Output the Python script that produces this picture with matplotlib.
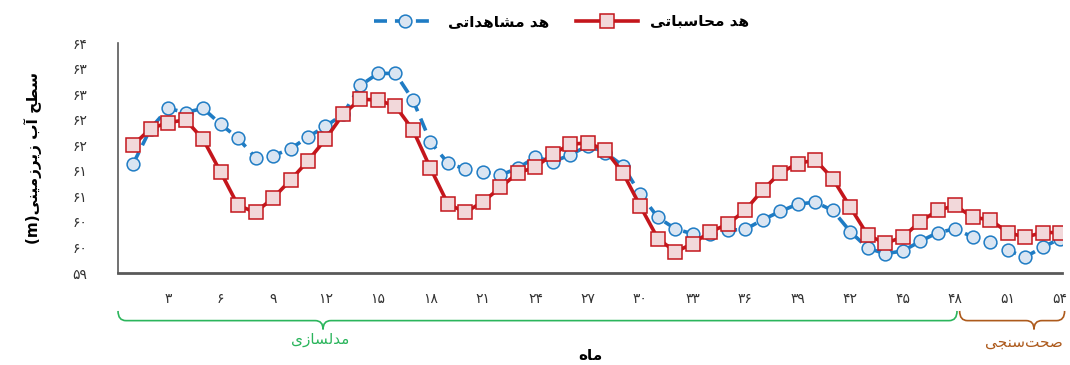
import numpy as np
import matplotlib
matplotlib.use('Agg')
import matplotlib.pyplot as plt
from matplotlib.path import Path
from matplotlib.patches import PathPatch

plt.rcParams['font.family'] = ['DejaVu Sans']

# data (monthly groundwater head, m)
months = list(range(1, 55))
observed = [61.37, 62.14, 62.58, 62.49, 62.58, 62.24, 61.93, 61.51, 61.55, 61.70,
            61.96, 62.19, 62.45, 63.08, 63.34, 63.34, 62.76, 61.85, 61.39, 61.26,
            61.20, 61.13, 61.28, 61.52, 61.42, 61.57, 61.77, 61.62, 61.33, 60.71,
            60.21, 59.96, 59.85, 59.84, 59.93, 59.95, 60.16, 60.34, 60.50, 60.54,
            60.36, 59.90, 59.54, 59.42, 59.48, 59.69, 59.88, 59.96, 59.78, 59.67,
            59.49, 59.35, 59.56, 59.75]
computed = [61.78, 62.14, 62.27, 62.33, 61.91, 61.20, 60.47, 60.32, 60.63, 61.02,
            61.44, 61.91, 62.45, 62.78, 62.76, 62.63, 62.11, 61.28, 60.50, 60.32,
            60.55, 60.86, 61.18, 61.30, 61.59, 61.80, 61.83, 61.67, 61.18, 60.45,
            59.75, 59.46, 59.64, 59.90, 60.06, 60.37, 60.81, 61.18, 61.38, 61.46,
            61.05, 60.43, 59.82, 59.65, 59.78, 60.12, 60.36, 60.47, 60.21, 60.16,
            59.88, 59.78, 59.88, 59.88]

xtick_values = list(range(3, 55, 3))
ytick_values = list(np.linspace(59, 64, 10))
ytick_labels = ['۵۹', '۶۰', '۶۰', '۶۱', '۶۱', '۶۲', '۶۲', '۶۳', '۶۳', '۶۴']

label_observed = 'هد مشاهداتی'
label_computed = 'هد محاسباتی'
label_y = 'سطح آب زیرزمینی'
label_x = 'ماه'
label_calib = 'مدلسازی'
label_valid = 'صحت\u200cسنجی'
calib_end = 48   # last month of the modelling period


# matplotlib has no Arabic shaping, so join letters by hand and reverse
FORMS = {
    'ا': ('\uFE8D', '\uFE8E', None, None),
    'آ': ('\uFE81', '\uFE82', None, None),
    'د': ('\uFEA9', '\uFEAA', None, None),
    'ر': ('\uFEAD', '\uFEAE', None, None),
    'ز': ('\uFEAF', '\uFEB0', None, None),
    'ب': ('\uFE8F', '\uFE90', '\uFE91', '\uFE92'),
    'ت': ('\uFE95', '\uFE96', '\uFE97', '\uFE98'),
    'ج': ('\uFE9D', '\uFE9E', '\uFE9F', '\uFEA0'),
    'ح': ('\uFEA1', '\uFEA2', '\uFEA3', '\uFEA4'),
    'س': ('\uFEB1', '\uFEB2', '\uFEB3', '\uFEB4'),
    'ش': ('\uFEB5', '\uFEB6', '\uFEB7', '\uFEB8'),
    'ص': ('\uFEB9', '\uFEBA', '\uFEBB', '\uFEBC'),
    'ط': ('\uFEC1', '\uFEC2', '\uFEC3', '\uFEC4'),
    'ل': ('\uFEDD', '\uFEDE', '\uFEDF', '\uFEE0'),
    'م': ('\uFEE1', '\uFEE2', '\uFEE3', '\uFEE4'),
    'ن': ('\uFEE5', '\uFEE6', '\uFEE7', '\uFEE8'),
    'ه': ('\uFEE9', '\uFEEA', '\uFEEB', '\uFEEC'),
    'ی': ('\uFEEF', '\uFEF0', '\uFEF3', '\uFEF4'),
}


def shape(s):
    out = []
    for i, c in enumerate(s):
        if c == '\u200c':
            continue
        if c not in FORMS:
            out.append(c)
            continue
        prev = s[i - 1] if i > 0 else ''
        nxt = s[i + 1] if i + 1 < len(s) else ''
        jp = prev in FORMS and FORMS[prev][2] is not None
        jn = FORMS[c][2] is not None and nxt in FORMS
        iso, fin, ini, med = FORMS[c]
        out.append(med if (jp and jn) else fin if jp else ini if jn else iso)
    return ''.join(reversed(out))


def fa_digits(n):
    return str(n).translate(str.maketrans('0123456789', '۰۱۲۳۴۵۶۷۸۹'))


def brace(ax, x0, x1, tip, color):
    # curly bracket under the x axis, x in data units, y in axes units
    y_end, y_mid, y_tip, r = -0.165, -0.207, -0.245, 0.45
    verts = [(x0, y_end), (x0, y_mid), (x0 + r, y_mid),
             (tip - r, y_mid),
             (tip, y_mid), (tip, y_tip),
             (tip, y_mid), (tip + r, y_mid),
             (x1 - r, y_mid),
             (x1, y_mid), (x1, y_end)]
    codes = [Path.MOVETO, Path.CURVE3, Path.CURVE3,
             Path.LINETO,
             Path.CURVE3, Path.CURVE3,
             Path.CURVE3, Path.CURVE3,
             Path.LINETO,
             Path.CURVE3, Path.CURVE3]
    patch = PathPatch(Path(verts, codes), transform=ax.get_xaxis_transform(),
                      fill=False, edgecolor=color, lw=1.2, clip_on=False)
    ax.add_patch(patch)


fig = plt.figure(figsize=(10.7, 3.65), dpi=100)
ax = fig.add_axes([0.1103, 0.252, 0.8822, 0.630])

ax.plot(months, observed, color='#1f7cc4', lw=2.6, ls=(0, (3.6, 2.2)),
        marker='o', ms=9.2, mfc='#dae5f2', mec='#1f7cc4', mew=1.1,
        label=shape(label_observed), zorder=3)
ax.plot(months, computed, color='#c4161c', lw=2.6,
        marker='s', ms=9.8, mfc='#f2d8da', mec='#c4161c', mew=1.1,
        label=shape(label_computed), zorder=4)

ax.set_xlim(0.14, 54.1)
ax.set_ylim(59, 64)
ax.set_xticks(xtick_values)
ax.set_xticklabels([fa_digits(m) for m in xtick_values], fontsize=10, color='#333333')
ax.set_yticks(ytick_values)
ax.set_yticklabels(ytick_labels, fontsize=10, color='#333333')
ax.tick_params(axis='both', length=0)
ax.tick_params(axis='x', pad=14)
ax.tick_params(axis='y', pad=22)

for side in ['top', 'right']:
    ax.spines[side].set_visible(False)
ax.spines['left'].set_color('#595959')
ax.spines['left'].set_linewidth(1.2)
ax.spines['bottom'].set_color('#595959')
ax.spines['bottom'].set_linewidth(2.0)

ax.set_ylabel('(m)' + shape(label_y), fontsize=11, fontweight='bold', labelpad=22)
ax.set_xlabel(shape(label_x), fontsize=11, fontweight='bold', va='center')
ax.xaxis.set_label_coords(0.5, -0.36)

brace(ax, 0.14, calib_end + 0.1, 11.86, '#2bb55c')
brace(ax, calib_end + 0.25, 54.25, 52.5, '#ad5a1c')
ax.text(11.7, -0.29, shape(label_calib), transform=ax.get_xaxis_transform(),
        ha='center', va='center', fontsize=11, color='#2bb55c')
ax.text(51.9, -0.30, shape(label_valid), transform=ax.get_xaxis_transform(),
        ha='center', va='center', fontsize=11, color='#ad5a1c')

leg = ax.legend(loc='lower center', bbox_to_anchor=(0.47, 1.0), ncol=2,
                frameon=False, handlelength=4, columnspacing=1.8,
                prop={'weight': 'bold', 'size': 11})

fig.savefig('out.png', dpi=100)
